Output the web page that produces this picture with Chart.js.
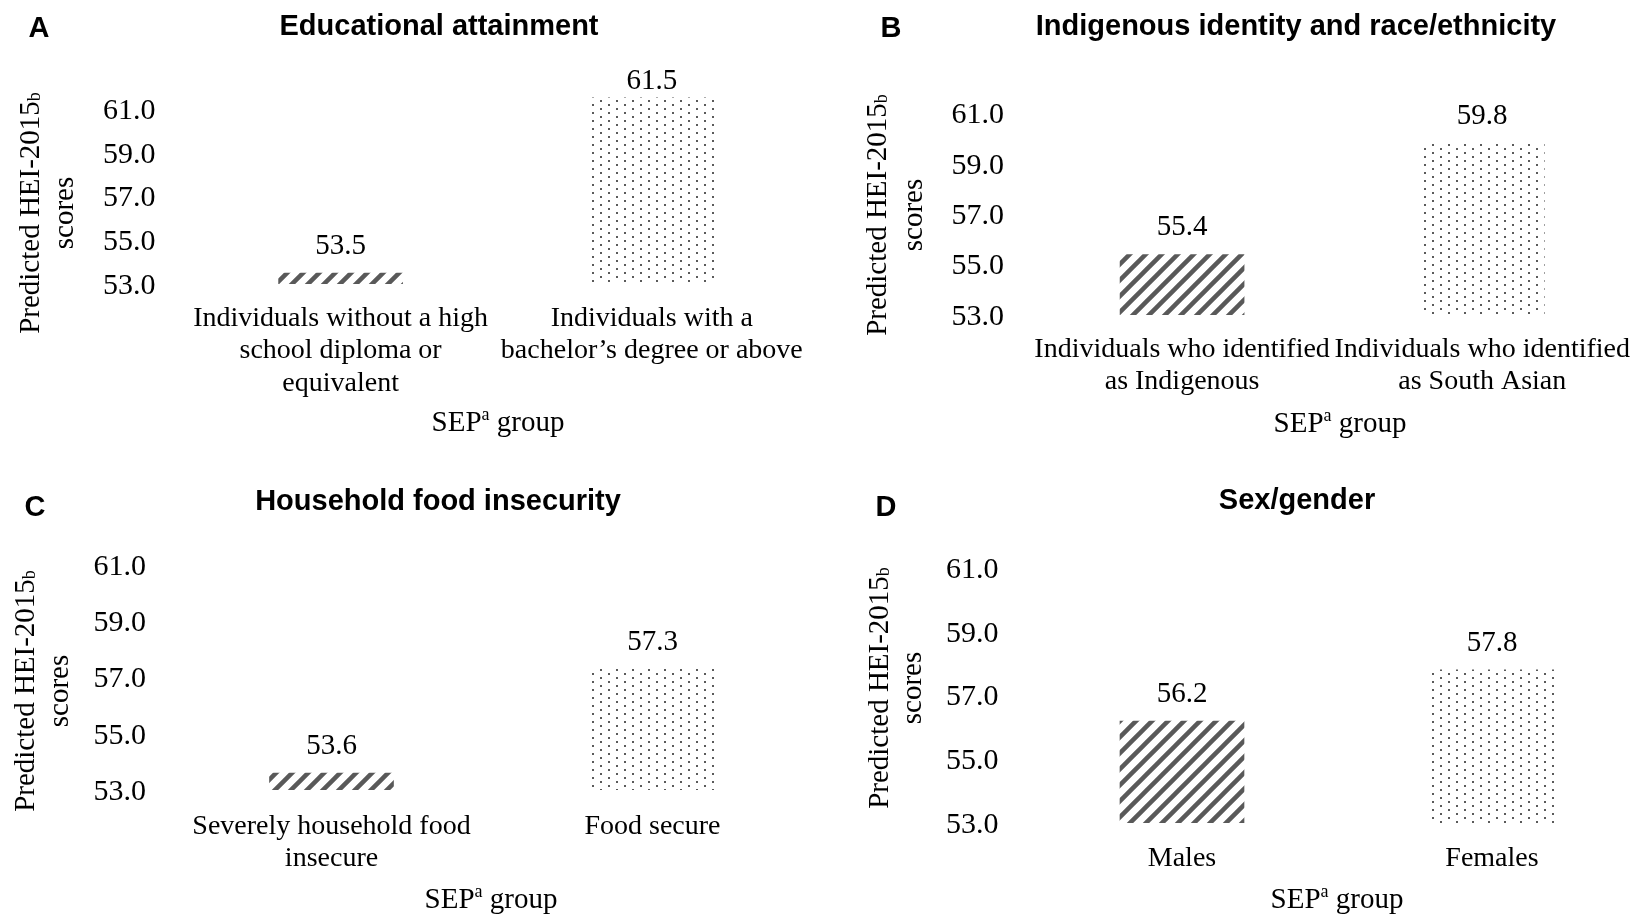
<!DOCTYPE html>
<html>
<head>
<meta charset="utf-8">
<script src="https://cdn.jsdelivr.net/npm/chart.js@4"></script>
<style>
  html, body { margin: 0; padding: 0; background: #fff; }
  #wrap { position: relative; width: 1648px; height: 914px; }
  #wrap canvas { position: absolute; }
</style>
</head>
<body>
<div id="wrap">
  <canvas id="chartA" width="824" height="457" style="left:0;top:0"></canvas>
  <canvas id="chartB" width="824" height="457" style="left:824px;top:0"></canvas>
  <canvas id="chartC" width="824" height="457" style="left:0;top:457px"></canvas>
  <canvas id="chartD" width="824" height="457" style="left:824px;top:457px"></canvas>
</div>
<script>
const educationGroups = [["Individuals without a high", "school diploma or", "equivalent"], ["Individuals with a", "bachelor’s degree or above"]];
const educationScores = [53.5, 61.5];

const indigenousGroups = [["Individuals who identified", "as Indigenous"], ["Individuals who identified", "as South Asian"]];
const indigenousScores = [55.4, 59.8];

const foodGroups = [["Severely household food", "insecure"], "Food secure"];
const foodScores = [53.6, 57.3];

const sexGroups = ["Males", "Females"];
const sexScores = [56.2, 57.8];

const yTicks = [53, 55, 57, 59, 61];
const yMin = 53;
const yMax = 62;

const SERIF = '"Liberation Serif", "Times New Roman", serif';
const SANS = '"Liberation Sans", Arial, sans-serif';

// fill patterns: grey diagonal stripes and a fine dot grid
function makeHatch() {
  const c = document.createElement('canvas');
  c.width = 16; c.height = 16;
  const g = c.getContext('2d');
  g.strokeStyle = '#595959';
  g.lineWidth = 4.5;
  g.beginPath();
  g.moveTo(-4, 20); g.lineTo(20, -4);
  g.moveTo(-4, 4); g.lineTo(4, -4);
  g.moveTo(12, 20); g.lineTo(20, 12);
  g.stroke();
  return g.createPattern(c, 'repeat');
}
function makeDots() {
  const c = document.createElement('canvas');
  c.width = 16; c.height = 8;
  const g = c.getContext('2d');
  g.fillStyle = '#5a5a5a';
  g.fillRect(0, 0, 2, 2);
  g.fillRect(8, 4, 2, 2);
  return g.createPattern(c, 'repeat');
}
const hatch = makeHatch();
const dots = makeDots();

function drawSup(ctx, parts, x, y, rotate) {
  // parts: [text, size, dy]
  ctx.save();
  ctx.translate(x, y);
  if (rotate) ctx.rotate(-Math.PI / 2);
  ctx.textBaseline = 'middle';
  ctx.textAlign = 'left';
  ctx.fillStyle = '#000';
  let total = 0;
  const widths = parts.map(([t, s]) => {
    ctx.font = s + 'px ' + SERIF;
    const w = ctx.measureText(t).width;
    total += w;
    return w;
  });
  let cx = -total / 2;
  parts.forEach(([t, s, dy], i) => {
    ctx.font = s + 'px ' + SERIF;
    ctx.fillText(t, cx, dy);
    cx += widths[i];
  });
  ctx.restore();
}

function buildChart(id, letter, title, groups, scores, p) {
  const panelText = {
    id: 'panelText',
    afterDraw(chart) {
      const ctx = chart.ctx;
      ctx.save();
      ctx.fillStyle = '#000';
      ctx.textAlign = 'center';
      ctx.textBaseline = 'middle';
      ctx.font = 'bold 29px ' + SANS;
      ctx.fillText(letter, p.letterX, p.letterY);
      ctx.font = 'bold 29px ' + SANS;
      ctx.fillText(title, p.titleX, p.titleY);
      ctx.restore();

      drawSup(ctx, [['Predicted HEI-2015', 29, 0], ['b', 18, 4]], p.yt1, p.ytY, true);
      drawSup(ctx, [['scores', 29, 0]], p.yt2, p.ytY, true);
      drawSup(ctx, [['SEP', 29, 0], ['a', 18, -8], [' group', 29, 0]], p.sepX, p.sepY, false);

      // value labels above bars
      const meta = chart.getDatasetMeta(0);
      ctx.save();
      ctx.fillStyle = '#000';
      ctx.textAlign = 'center';
      ctx.textBaseline = 'middle';
      ctx.font = '29px ' + SERIF;
      meta.data.forEach((bar, i) => {
        const ly = Math.max(bar.y - 27, chart.chartArea.top - 6);
        ctx.fillText(scores[i].toFixed(1), bar.x, ly);
      });
      ctx.restore();
    }
  };

  return new Chart(document.getElementById(id), {
    type: 'bar',
    data: {
      labels: groups,
      datasets: [{
        data: scores,
        backgroundColor: [hatch, dots],
        borderWidth: 0,
        barThickness: 124
      }]
    },
    options: {
      responsive: false,
      animation: false,
      devicePixelRatio: 1,
      layout: { padding: { left: 0, top: p.top, right: 824 - p.right, bottom: 0 } },
      plugins: { legend: { display: false }, tooltip: { enabled: false }, title: { display: false } },
      scales: {
        x: {
          grid: { display: false, drawTicks: false },
          border: { display: false },
          ticks: {
            color: '#000',
            font: { family: SERIF, size: 28, lineHeight: 1.17 },
            padding: p.xPad,
            maxRotation: 0, minRotation: 0, autoSkip: false
          },
          afterFit(axis) { axis.height = 457 - p.bottom; }
        },
        y: {
          min: yMin,
          max: yMax,
          grid: { display: false, drawTicks: false },
          border: { display: false },
          afterBuildTicks(axis) { axis.ticks = yTicks.map(v => ({ value: v })); },
          ticks: {
            color: '#000',
            font: { family: SERIF, size: 30 },
            padding: p.tickPad,
            labelOffset: 2,
            callback: v => Number(v).toFixed(1)
          },
          afterFit(axis) { axis.width = p.left; }
        }
      }
    },
    plugins: [panelText]
  });
}

buildChart('chartA', 'A', 'Educational attainment', educationGroups, educationScores, {
  left: 185, right: 811, top: 87, bottom: 284, tickPad: 29.5, xPad: 18,
  letterX: 39, letterY: 29, titleX: 439, titleY: 27,
  yt1: 31.5, yt2: 65, ytY: 213, sepX: 498, sepY: 423.5
});
buildChart('chartB', 'B', 'Indigenous identity and race/ethnicity', indigenousGroups, indigenousScores, {
  left: 208, right: 824, top: 88, bottom: 315, tickPad: 28, xPad: 18,
  letterX: 67, letterY: 29, titleX: 472, titleY: 27,
  yt1: 54.6, yt2: 90, ytY: 215, sepX: 516, sepY: 424.5
});
buildChart('chartC', 'C', 'Household food insecurity', foodGroups, foodScores, {
  left: 171, right: 813, top: 80, bottom: 333, tickPad: 25, xPad: 20,
  letterX: 35, letterY: 50.5, titleX: 438, titleY: 45,
  yt1: 26, yt2: 60, ytY: 234, sepX: 491, sepY: 443.5
});
buildChart('chartD', 'D', 'Sex/gender', sexGroups, sexScores, {
  left: 203, right: 823, top: 79, bottom: 366, tickPad: 28.5, xPad: 19,
  letterX: 62, letterY: 50.5, titleX: 473, titleY: 44,
  yt1: 56, yt2: 89, ytY: 231, sepX: 513, sepY: 443.5
});
</script>
</body>
</html>
